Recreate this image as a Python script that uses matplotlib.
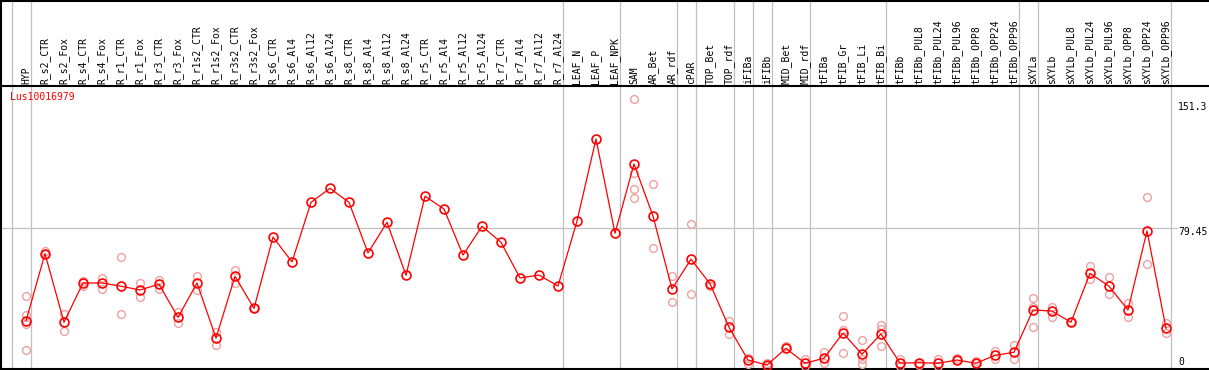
import matplotlib
matplotlib.use("Agg")
import matplotlib.pyplot as plt
import matplotlib.transforms as mtransforms

samples = ["HYP", "R_s2_CTR", "R_s2_Fox", "R_s4_CTR", "R_s4_Fox", "R_r1_CTR", "R_r1_Fox",
           "R_r3_CTR", "R_r3_Fox", "R_r1s2_CTR", "R_r1s2_Fox", "R_r3s2_CTR", "R_r3s2_Fox",
           "R_s6_CTR", "R_s6_Al4", "R_s6_Al12", "R_s6_Al24", "R_s8_CTR", "R_s8_Al4",
           "R_s8_Al12", "R_s8_Al24", "R_r5_CTR", "R_r5_Al4", "R_r5_Al12", "R_r5_Al24",
           "R_r7_CTR", "R_r7_Al4", "R_r7_Al12", "R_r7_Al24", "LEAF_N", "LEAF_P", "LEAF_NPK",
           "SAM", "AR_Bet", "AR_rdf", "cPAR", "TOP_Bet", "TOP_rdf", "iFIBa", "iFIBb",
           "MID_Bet", "MID_rdf", "tFIBa", "tFIB_Gr", "tFIB_Li", "tFIB_Bi", "tFIBb",
           "tFIBb_PUL8", "tFIBb_PUL24", "tFIBb_PUL96", "tFIBb_OPP8", "tFIBb_OPP24",
           "tFIBb_OPP96", "sXYLa", "sXYLb", "sXYLb_PUL8", "sXYLb_PUL24", "sXYLb_PUL96",
           "sXYLb_OPP8", "sXYLb_OPP24", "sXYLb_OPP96"]

means = [27.8, 65.2, 27.1, 48.9, 48.9, 47.1, 45.0, 48.2, 29.8, 48.9, 18.3, 52.6, 34.8,
         74.4, 60.6, 93.7, 101.5, 93.7, 65.6, 82.6, 53.2, 97.1, 90.0, 64.4, 80.4,
         71.5, 51.7, 53.3, 47.2, 83.3, 128.9, 76.5,
         115.0, 86.1, 45.6, 62.1, 48.5, 24.3, 6.1, 3.3, 12.6, 4.3, 7.1, 21.1, 9.3, 20.6,
         4.4, 4.6, 4.3, 6.1, 4.3, 8.7, 10.4,
         33.9, 33.3, 27.1, 54.3, 47.1, 33.9, 77.8, 23.7]

replicates = [[41.5, 31.1, 25.9, 11.7], [66.5, 65.2], [31.7, 22.1], [50.2, 47.2], [51.8, 45.6],
              [63.2, 31.7], [48.7, 41.3], [50.4, 45.4], [32.9, 26.8], [52.8, 45.0],
              [21.8, 14.3], [55.9, 49.1], [34.8, 34.8],
              [], [], [], [], [], [], [], [], [], [], [], [], [], [], [], [], [], [], [],
              [151.3, 109.8, 101.1, 95.9], [103.7, 68.3], [52.8, 38.3], [81.5, 42.8],
              [47.4, 48.5], [27.9, 20.4], [7.4, 3.9], [4.6, 2.8], [13.9, 12.6], [6.5, 2.8],
              [10.4, 4.6], [30.4, 22.8, 9.8], [17.1, 6.8, 3.7], [25.7, 23.5, 13.7],
              [6.8, 2.8], [3.2, 4.6], [6.5, 2.8], [7.1, 6.1], [5.4, 4.3], [11.3, 6.5],
              [14.3, 6.5], [40.4, 35.4, 24.3], [35.7, 30.2], [27.1, 27.1], [58.3, 50.9],
              [52.1, 42.6], [37.6, 29.8], [96.5, 59.3], [26.5, 20.9]]

group_ends = [-1, 0, 28, 31, 34, 35, 37, 38, 39, 41, 45, 52, 53, 60]
ytick_labels = ["151.3", "79.45", "0"]
gene = "Lus10016979"

W, H = 1209, 370
fig = plt.figure(figsize=(W / 100, H / 100), dpi=100)
ax = fig.add_axes([0, 0, 1, 1])
ax.set_xlim(-26 / 19, (W - 26) / 19)
ax.set_ylim((371 - H) / 1.8, 371 / 1.8)
ax.axis("off")

xs = list(range(len(samples)))
lab = mtransforms.blended_transform_factory(ax.transData, ax.transAxes)

# vertical separators between sample groups
for e in group_ends:
    ax.axvline(e + 0.24, color="#c0c0c0", lw=0.9, zorder=1)
# middle reference line
ax.axhline(79.45, xmin=1 / W, xmax=1177 / W, color="#c0c0c0", lw=0.9, zorder=1)

# frame
for py in [0.5, 85.5, 369]:
    ax.plot([0, 1], [1 - py / H, 1 - py / H], transform=ax.transAxes, color="black", lw=1.5)
ax.plot([1 / W, 1 / W], [0, 1], transform=ax.transAxes, color="black", lw=1.5)

for i, reps in enumerate(replicates):
    ax.plot([i] * len(reps), reps, ls="none", marker="o", ms=5.6, mfc="none",
            mec="#f0a0a0", mew=1.0, zorder=2)
ax.plot(xs, means, color="red", lw=0.9, marker="o", ms=6.4, mfc="none", mec="red",
        mew=1.2, zorder=3)

for i, s in enumerate(samples):
    ax.text(i, 1 - 84 / H, s, transform=lab, rotation=90, ha="center", va="bottom",
            family="DejaVu Sans Mono", fontsize=7)

ax.text(10 / W, 1 - 97.5 / H, gene, transform=ax.transAxes, color="red", va="center",
        family="DejaVu Sans Mono", fontsize=7)
for t, py in zip(ytick_labels, [107.3, 232.3, 362.3]):
    ax.text(1178 / W, 1 - py / H, t, transform=ax.transAxes, va="center",
            family="DejaVu Sans Mono", fontsize=7)

fig.savefig("out.png", dpi=100)
